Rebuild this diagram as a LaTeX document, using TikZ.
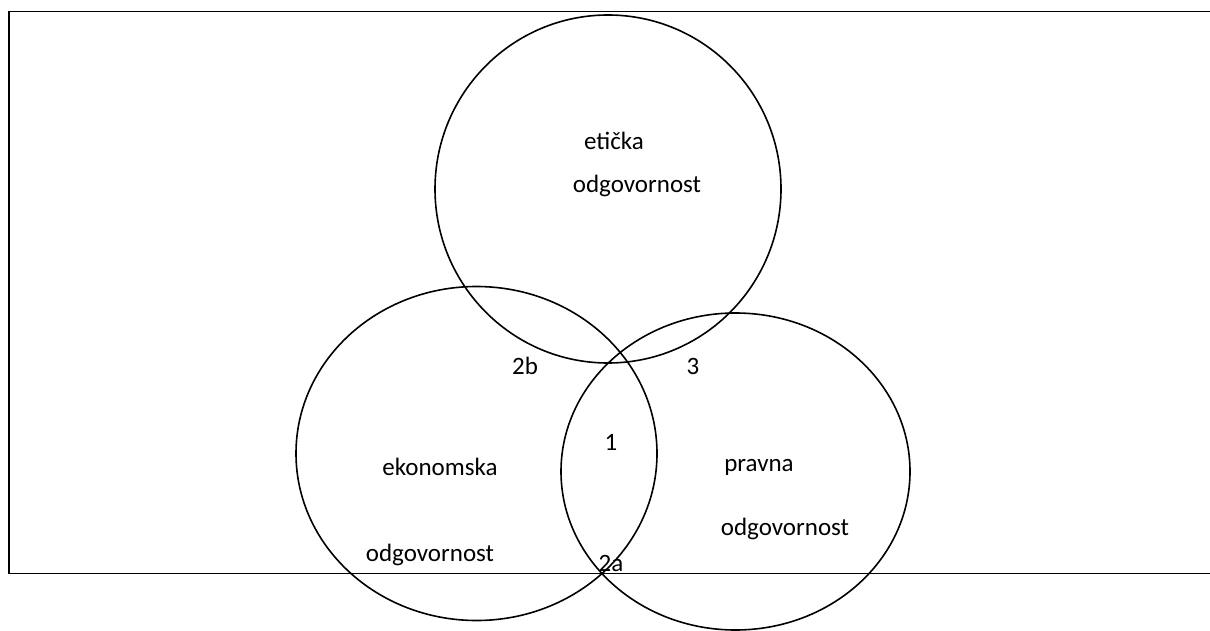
\documentclass[tikz,border=0pt]{standalone}
\usepackage{fontspec}
\setmainfont{Carlito}
\usetikzlibrary{positioning}

\begin{document}
\begin{tikzpicture}[x=0.5pt,y=-0.5pt,
    krug/.style={draw,line width=0.8pt},
    tekst/.style={inner sep=0pt,font=\fontsize{12.5pt}{15pt}\selectfont}]
\useasboundingbox (0,0) rectangle (1210,631);
% okvir (desni rub ne vidi se)
\draw[line width=0.8pt] (1210,11.5) -- (9,11.5) -- (9,573.5) -- (1210,573.5);
% tri kruga
\draw[krug] (608,189) ellipse [x radius=173, y radius=174];
\draw[krug] (476.5,453.5) ellipse [x radius=180.5, y radius=167];
\draw[krug] (735.5,471.5) ellipse [x radius=174.5, y radius=158.5];
% natpisi
\foreach \i/\x/\y/\t in {e1/614/141/etička, e2/637/186/odgovornost,
                         k1/440/467/ekonomska, k2/430/555/odgovornost,
                         p1/759/467/pravna, p2/785/529/odgovornost,
                         n2b/525/366/2b, n3/693/366/3, n1/611/442/1, n2a/611/563/2a} {
    \node[tekst] (\i) at (\x,\y) {\t};
}
\end{tikzpicture}
\end{document}
